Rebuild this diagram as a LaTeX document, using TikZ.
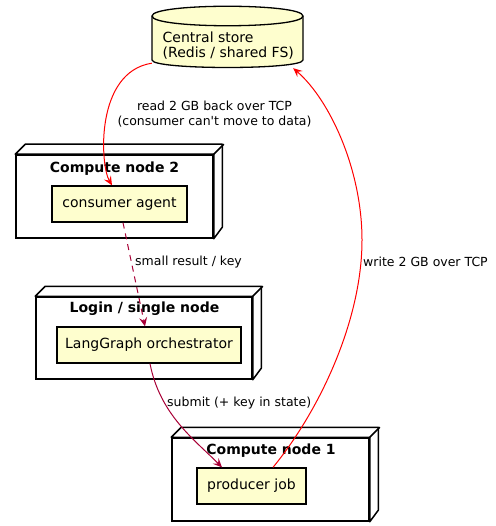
\documentclass[tikz,border=0pt]{standalone}
\usepackage{fontspec}
\setmainfont{DejaVu Sans}[Ligatures=TeXOff]
\usetikzlibrary{arrows.meta,calc}
\definecolor{boxfill}{HTML}{FEFECE}
\definecolor{plum}{HTML}{A80036}
\definecolor{redline}{HTML}{FF0000}
\begin{document}
\begin{tikzpicture}[x=1pt,y=-1pt,
  frame/.style={draw=black,line width=1.5pt,fill=white,inner sep=0pt},
  back/.style={draw=black,line width=1.5pt,fill=white,line join=round},
  comp/.style={draw=black,line width=1.3pt,fill=boxfill,inner sep=0pt,minimum height=36pt,font=\fontsize{14}{16}\selectfont},
  ttl/.style={font=\bfseries\fontsize{14}{16}\selectfont,inner sep=0pt},
  elabel/.style={font=\fontsize{12.5}{14.5}\selectfont,inner sep=0pt},
  tip/.style={-{Stealth[length=9pt,width=8pt,inset=3.5pt]}},
  redarrow/.style={draw=redline,line width=1pt,tip},
  plumarrow/.style={draw=plum,line width=1pt,tip},
]
\useasboundingbox (0,0) rectangle (495,526);

% ---- central store (cylinder)
\node[minimum width=151pt,minimum height=62pt,inner sep=0pt] (store) at (227.5,36) {};
\filldraw[fill=boxfill,draw=black,line width=1.3pt]
  (152,16) .. controls (152,3) and (303,3) .. (303,16) -- (303,60)
  .. controls (303,70) and (152,70) .. (152,60) -- cycle;
\draw[line width=1.3pt] (152,16) .. controls (152,29) and (303,29) .. (303,16);
\node[anchor=west,align=left,inner sep=0pt,font=\fontsize{14}{15}\selectfont] (storelabel) at (162.5,45.5)
  {Central store\\(Redis / shared FS)};

% ---- Compute node 2
\node[frame,minimum width=197pt,minimum height=83pt] (cn2) at (114.5,196.5) {};
\draw[back] (cn2.north west) -- ++(10,-10) -- ++(197,0) -- ++(0,83) -- (cn2.south east) -- (cn2.north east) -- cycle;
\draw[line width=1.5pt] (cn2.north east) -- ++(10,-10);
\node[ttl] (cn2title) at (114.5,168.5) {Compute node 2};
\node[comp,minimum width=135pt] (consumer) at (119.5,204) {consumer agent};

% ---- Login / single node
\node[frame,minimum width=216pt,minimum height=82pt] (login) at (144,338) {};
\draw[back] (login.north west) -- ++(10,-10) -- ++(216,0) -- ++(0,82) -- (login.south east) -- (login.north east) -- cycle;
\draw[line width=1.5pt] (login.north east) -- ++(10,-10);
\node[ttl] (logintitle) at (144.5,308.5) {Login / single node};
\node[comp,minimum width=184pt] (langgraph) at (149,345) {LangGraph orchestrator};

% ---- Compute node 1
\node[frame,minimum width=197pt,minimum height=83pt] (cn1) at (270.5,479.5) {};
\draw[back] (cn1.north west) -- ++(10,-10) -- ++(197,0) -- ++(0,83) -- (cn1.south east) -- (cn1.north east) -- cycle;
\draw[line width=1.5pt] (cn1.north east) -- ++(10,-10);
\node[ttl] (cn1title) at (271,450.5) {Compute node 1};
\node[comp,minimum width=109pt] (producer) at (251.5,486) {producer job};

% ---- connectors
\draw[redarrow] ([yshift=4pt]store.south west) .. controls (95,72) and (100,165) .. ([xshift=-7.5pt]consumer.north);
\node[elabel,align=center] (readlbl) at (214.5,114) {read 2 GB back over TCP\\(consumer can't move to data)};

\draw[plumarrow,dash pattern=on 6pt off 5pt] ([xshift=3.5pt]consumer.south) -- ([xshift=-4pt]langgraph.north);
\node[elabel,anchor=west] (smalllbl) at (135,262) {small result / key};

\draw[plumarrow] ([xshift=1pt]langgraph.south) .. controls (160,415) and (195,440) .. ([xshift=-29.5pt]producer.north);
\node[elabel,anchor=west] (submitlbl) at (167,403) {submit (+ key in state)};

\coordinate (wmid) at (362,240);
\draw[redarrow] ([xshift=21.5pt]producer.north) .. controls (320,410) and (362,320) .. (wmid)
  .. controls (362,170) and (330,100) .. ([xshift=-10pt,yshift=-1pt]store.south east);
\node[elabel,anchor=west] (writelbl) at (363,262) {write 2 GB over TCP};
\end{tikzpicture}
\end{document}
